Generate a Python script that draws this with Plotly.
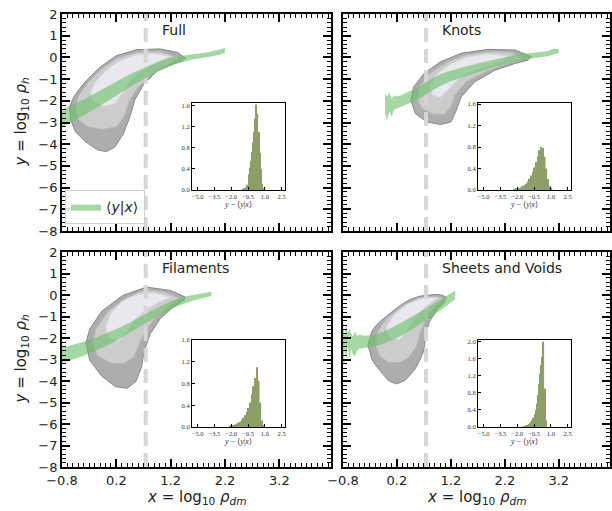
import plotly.graph_objects as go

W, H = 612, 511

# ---------------- data ----------------
panel_names = ["Full", "Knots", "Filaments", "Sheets and Voids"]
dm_threshold = 0.74

x_tick_vals = [-0.8, 0.2, 1.2, 2.2, 3.2]
x_tick_text = ["\u22120.8", "0.2", "1.2", "2.2", "3.2"]
y_tick_vals = [-8, -7, -6, -5, -4, -3, -2, -1, 0, 1, 2]
y_tick_text = ["\u22128", "\u22127", "\u22126", "\u22125", "\u22124", "\u22123",
               "\u22122", "\u22121", "0", "1", "2"]

# contour polygons (outer / middle / inner), data coords
full_outer_x = [1.48, 1.33, 1.01, 0.58, 0.2, -0.11, -0.39, -0.58, -0.66, -0.64, -0.55, -0.36, -0.14, 0.01, 0.17, 0.33, 0.45, 0.54, 0.7, 0.95, 1.23, 1.42]
full_outer_y = [-0.05, 0.23, 0.39, 0.36, 0.08, -0.47, -1.17, -1.8, -2.27, -2.89, -3.44, -3.9, -4.27, -4.34, -4.14, -3.52, -2.73, -1.95, -1.25, -0.62, -0.31, -0.16]
full_mid_x = [1.36, 1.0, 0.6, 0.22, -0.07, -0.33, -0.5, -0.55, -0.5, -0.32, -0.05, 0.2, 0.34, 0.44, 0.6, 0.85, 1.12]
full_mid_y = [-0.02, 0.27, 0.25, -0.03, -0.52, -1.17, -1.8, -2.3, -2.85, -3.2, -3.32, -3.2, -2.75, -2.0, -1.35, -0.78, -0.38]
full_in_x = [1.2, 0.9, 0.55, 0.25, 0.02, -0.18, -0.28, -0.22, -0.02, 0.18, 0.3, 0.42, 0.58, 0.82, 1.02]
full_in_y = [0.05, 0.18, 0.12, -0.17, -0.58, -1.12, -1.62, -2.02, -2.25, -2.12, -1.7, -1.2, -0.78, -0.38, -0.12]

knots_outer_x = [2.7, 2.39, 1.89, 1.39, 1.01, 0.7, 0.51, 0.46, 0.54, 0.76, 1.01, 1.2, 1.3, 1.39, 1.64, 2.02, 2.39, 2.64]
knots_outer_y = [0.03, 0.34, 0.37, 0.19, -0.2, -0.74, -1.36, -1.98, -2.59, -2.98, -3.09, -2.98, -2.44, -1.82, -1.13, -0.59, -0.28, -0.12]
knots_mid_x = [2.55, 2.3, 1.9, 1.45, 1.1, 0.8, 0.62, 0.58, 0.66, 0.88, 1.08, 1.2, 1.28, 1.48, 1.85, 2.2, 2.45]
knots_mid_y = [0.0, 0.24, 0.27, 0.1, -0.26, -0.75, -1.35, -1.9, -2.35, -2.62, -2.62, -2.3, -1.72, -1.12, -0.65, -0.32, -0.13]
knots_in_x = [2.3, 1.9, 1.5, 1.2, 0.95, 0.82, 0.85, 1.0, 1.14, 1.34, 1.65, 2.0]
knots_in_y = [0.06, 0.16, 0.02, -0.3, -0.75, -1.3, -1.72, -1.85, -1.5, -1.0, -0.6, -0.3]

fil_outer_x = [1.48, 1.2, 0.75, 0.31, -0.07, -0.29, -0.36, -0.29, -0.07, 0.18, 0.4, 0.56, 0.66, 0.72, 0.82, 1.01, 1.26, 1.45]
fil_outer_y = [-0.11, 0.21, 0.37, -0.03, -0.76, -1.58, -2.23, -3.04, -3.77, -4.26, -4.34, -4.02, -3.37, -2.55, -1.82, -1.09, -0.52, -0.24]
fil_mid_x = [1.36, 1.1, 0.75, 0.4, 0.05, -0.17, -0.24, -0.15, 0.1, 0.35, 0.52, 0.62, 0.72, 0.92, 1.18]
fil_mid_y = [-0.15, 0.13, 0.25, -0.1, -0.75, -1.55, -2.2, -2.82, -3.18, -3.18, -2.88, -2.3, -1.7, -1.05, -0.52]
fil_in_x = [1.2, 0.9, 0.6, 0.3, 0.1, 0.0, 0.05, 0.25, 0.4, 0.55, 0.8, 1.0]
fil_in_y = [-0.1, 0.1, 0.05, -0.3, -0.85, -1.5, -2.0, -2.12, -1.7, -1.1, -0.6, -0.3]

sv_outer_x = [1.13, 1.05, 0.94, 0.8, 0.63, 0.45, 0.3, 0.15, 0.0, -0.1, -0.2, -0.27, -0.3, -0.34, -0.3, -0.27, -0.2, -0.12, -0.03, 0.04, 0.19, 0.35, 0.45, 0.54, 0.62, 0.69, 0.72, 0.75, 0.8, 0.88, 0.95, 1.04, 1.1]
sv_outer_y = [-0.13, -0.02, 0.03, 0.0, -0.05, -0.2, -0.42, -0.7, -0.98, -1.2, -1.45, -1.72, -2.0, -2.33, -2.65, -2.96, -3.25, -3.5, -3.75, -3.98, -4.14, -3.98, -3.7, -3.43, -3.05, -2.65, -2.2, -1.7, -1.25, -0.91, -0.65, -0.44, -0.28]
sv_mid_x = [1.05, 0.9, 0.6, 0.3, 0.02, -0.16, -0.2, -0.12, 0.05, 0.25, 0.42, 0.56, 0.64, 0.77, 0.94]
sv_mid_y = [-0.15, -0.06, -0.13, -0.5, -1.07, -1.7, -2.3, -2.85, -3.15, -3.15, -2.9, -2.4, -1.7, -0.95, -0.45]
sv_in_x = [0.95, 0.7, 0.4, 0.15, 0.0, 0.05, 0.25, 0.4, 0.55, 0.75]
sv_in_y = [-0.13, -0.13, -0.42, -0.92, -1.5, -2.0, -2.07, -1.6, -1.0, -0.5]

# <y|x> bands
full_band_x = [-0.8, -0.6, -0.4, -0.2, 0.0, 0.2, 0.4, 0.6, 0.8, 1.0, 1.2, 1.4, 1.6, 1.8, 1.9, 2.0, 2.1, 2.2]
full_band_hi = [-2.4, -2.18, -1.95, -1.66, -1.38, -1.12, -0.85, -0.6, -0.38, -0.18, -0.02, 0.08, 0.15, 0.2, 0.25, 0.28, 0.36, 0.45]
full_band_lo = [-3.2, -2.95, -2.68, -2.38, -2.08, -1.78, -1.45, -1.15, -0.88, -0.62, -0.4, -0.22, -0.1, -0.02, 0.02, 0.06, 0.12, 0.22]

knots_band_x = [-0.02, 0.02, 0.06, 0.1, 0.15, 0.2, 0.3, 0.45, 0.6, 0.8, 1.0, 1.2, 1.4, 1.6, 1.8, 2.0, 2.2, 2.4, 2.6, 2.8, 3.0, 3.1, 3.2]
knots_band_hi = [-1.7, -1.8, -1.6, -1.9, -1.75, -1.8, -1.72, -1.55, -1.35, -1.05, -0.78, -0.6, -0.46, -0.34, -0.22, -0.1, 0.02, 0.12, 0.18, 0.24, 0.3, 0.4, 0.38]
knots_band_lo = [-2.6, -2.9, -2.5, -2.75, -2.4, -2.35, -2.25, -2.1, -1.92, -1.62, -1.32, -1.1, -0.92, -0.76, -0.6, -0.44, -0.3, -0.17, -0.08, -0.02, 0.05, 0.12, 0.2]

fil_band_x = [-0.8, -0.6, -0.4, -0.2, 0.0, 0.2, 0.4, 0.6, 0.8, 1.0, 1.2, 1.4, 1.6, 1.8, 1.95]
fil_band_hi = [-2.45, -2.32, -2.18, -2.0, -1.8, -1.58, -1.35, -1.07, -0.8, -0.53, -0.3, -0.12, 0.0, 0.08, 0.15]
fil_band_lo = [-3.15, -3.0, -2.82, -2.6, -2.38, -2.12, -1.85, -1.53, -1.22, -0.92, -0.66, -0.45, -0.27, -0.15, -0.05]

sv_band_x = [-0.8, -0.77, -0.74, -0.71, -0.68, -0.65, -0.62, -0.58, -0.54, -0.5, -0.4, -0.2, 0.0, 0.2, 0.4, 0.6, 0.8, 1.0, 1.15, 1.28]
sv_band_hi = [-1.4, -1.9, -1.35, -1.8, -1.55, -1.75, -1.95, -1.7, -1.9, -1.85, -1.9, -1.85, -1.65, -1.4, -1.12, -0.82, -0.52, -0.22, 0.0, 0.2]
sv_band_lo = [-3.3, -2.6, -2.95, -2.4, -3.0, -2.5, -2.75, -2.85, -2.6, -2.5, -2.45, -2.4, -2.22, -2.0, -1.72, -1.42, -1.08, -0.72, -0.45, -0.2]

# residual histograms  y - <y|x>
full_hist_x = [-0.95, -0.85, -0.75, -0.65, -0.55, -0.45, -0.35, -0.25, -0.15, -0.05, 0.05, 0.15, 0.25, 0.35, 0.45, 0.55, 0.65, 0.75, 0.85]
full_hist_h = [0.01, 0.02, 0.03, 0.05, 0.1, 0.3, 0.42, 0.55, 0.72, 0.9, 1.1, 1.35, 1.62, 1.45, 1.1, 0.7, 0.4, 0.12, 0.03]
knots_hist_x = [-2.25, -2.1, -1.95, -1.8, -1.65, -1.5, -1.35, -1.2, -1.05, -0.9, -0.75, -0.6, -0.45, -0.3, -0.15, 0.0, 0.15, 0.3, 0.45, 0.6, 0.75, 0.9, 1.05]
knots_hist_h = [0.01, 0.02, 0.03, 0.04, 0.05, 0.07, 0.09, 0.12, 0.16, 0.21, 0.27, 0.34, 0.42, 0.52, 0.62, 0.74, 0.8, 0.78, 0.62, 0.4, 0.2, 0.07, 0.02]
fil_hist_x = [-2.1, -1.95, -1.8, -1.65, -1.5, -1.35, -1.2, -1.05, -0.9, -0.75, -0.6, -0.45, -0.3, -0.15, 0.0, 0.15, 0.3, 0.45, 0.6, 0.75, 0.9]
fil_hist_h = [0.01, 0.02, 0.03, 0.04, 0.06, 0.08, 0.1, 0.13, 0.17, 0.22, 0.28, 0.35, 0.45, 0.6, 0.75, 0.9, 1.1, 0.85, 0.45, 0.12, 0.03]
sv_hist_x = [-1.45, -1.35, -1.25, -1.15, -1.05, -0.95, -0.85, -0.75, -0.65, -0.55, -0.45, -0.35, -0.25, -0.15, -0.05, 0.05, 0.15, 0.25, 0.35, 0.45, 0.55]
sv_hist_h = [0.01, 0.02, 0.03, 0.04, 0.05, 0.07, 0.09, 0.12, 0.16, 0.22, 0.3, 0.4, 0.55, 0.75, 1.0, 1.25, 1.45, 1.65, 2.0, 0.9, 0.15]

hist_bin_width = [0.1, 0.15, 0.15, 0.1]
inset_x_ticks = [-5.0, -3.5, -2.0, -0.5, 1.0, 2.5]
inset_x_text = ["\u22125.0", "\u22123.5", "\u22122.0", "\u22120.5", "1.0", "2.5"]
inset_y_max = [1.65, 1.62, 1.6, 2.04]
inset_y_ticks = [[0.0, 0.4, 0.8, 1.2, 1.6], [0.0, 0.4, 0.8, 1.2, 1.6],
                 [0.0, 0.4, 0.8, 1.2, 1.6], [0.0, 0.4, 0.8, 1.2, 1.6, 2.0]]

contours = [
    ((full_outer_x, full_outer_y), (full_mid_x, full_mid_y), (full_in_x, full_in_y)),
    ((knots_outer_x, knots_outer_y), (knots_mid_x, knots_mid_y), (knots_in_x, knots_in_y)),
    ((fil_outer_x, fil_outer_y), (fil_mid_x, fil_mid_y), (fil_in_x, fil_in_y)),
    ((sv_outer_x, sv_outer_y), (sv_mid_x, sv_mid_y), (sv_in_x, sv_in_y)),
]
bands = [
    (full_band_x, full_band_hi, full_band_lo),
    (knots_band_x, knots_band_hi, knots_band_lo),
    (fil_band_x, fil_band_hi, fil_band_lo),
    (sv_band_x, sv_band_hi, sv_band_lo),
]
hists = [(full_hist_x, full_hist_h), (knots_hist_x, knots_hist_h),
         (fil_hist_x, fil_hist_h), (sv_hist_x, sv_hist_h)]

# ---------------- layout geometry (pixels) ----------------
def px_x(p):
    return p / W

def px_y(p):
    return 1 - p / H

main_boxes = [  # (left, right, top, bottom) in px
    (62, 331, 14, 231), (343, 610, 14, 231),
    (62, 331, 252, 467), (343, 610, 252, 467),
]
inset_boxes = [
    (192, 285, 103, 190), (478, 571, 103, 190),
    (192, 285, 340, 427), (478, 571, 340, 427),
]

contour_fill = ["#adadad", "#cccccc", "#e8e8ee"]
contour_line = ["#888888", "#b8b8b8", "#d8d8e0"]
band_color = "rgba(105,190,105,0.6)"
hist_color = "rgb(141,158,104)"

fig = go.Figure()
layout = dict(
    width=W, height=H, margin=dict(l=0, r=0, t=0, b=0, autoexpand=False),
    paper_bgcolor="white", plot_bgcolor="white",
    font=dict(family="DejaVu Sans", color="#222"),
    showlegend=True,
)

for i in range(4):
    n = i + 1
    xa = "x" if n == 1 else f"x{n}"
    ya = "y" if n == 1 else f"y{n}"
    ni = n + 4
    xi, yi = f"x{ni}", f"y{ni}"

    for k, (cx, cy) in enumerate(contours[i]):
        fig.add_trace(go.Scatter(
            x=list(cx), y=list(cy), fill="toself", mode="lines",
            fillcolor=contour_fill[k], line=dict(color=contour_line[k], width=1),
            xaxis=xa, yaxis=ya, showlegend=False, hoverinfo="skip"))
    fig.add_trace(go.Scatter(
        x=[dm_threshold, dm_threshold], y=[-8, 2], mode="lines",
        line=dict(color="#d6d6d6", width=4, dash="14px,7px"),
        xaxis=xa, yaxis=ya, showlegend=False, hoverinfo="skip"))
    bx, bhi, blo = bands[i]
    fig.add_trace(go.Scatter(
        x=list(bx) + list(bx)[::-1], y=list(bhi) + list(blo)[::-1],
        fill="toself", mode="lines", fillcolor=band_color,
        line=dict(color="rgba(0,0,0,0)", width=0),
        name="\u27e8<i>y</i>|<i>x</i>\u27e9", showlegend=(i == 0),
        xaxis=xa, yaxis=ya, hoverinfo="skip"))
    hx, hh = hists[i]
    fig.add_trace(go.Bar(
        x=hx, y=hh, width=hist_bin_width[i], marker=dict(color=hist_color, line=dict(width=0)),
        xaxis=xi, yaxis=yi, showlegend=False, hoverinfo="skip"))

    l, r, t, b = main_boxes[i]
    bottom_row = i >= 2
    left_col = i % 2 == 0
    layout[f"xaxis{'' if n == 1 else n}"] = dict(
        domain=[px_x(l), px_x(r)], anchor=ya, range=[-0.8, 4.15], automargin=False,
        tickmode="array", tickvals=x_tick_vals, ticktext=x_tick_text,
        showticklabels=bottom_row, ticks="inside", ticklen=8, tickwidth=1.5,
        tickcolor="black", showline=True, linecolor="black", linewidth=1.8,
        mirror="allticks", showgrid=False, zeroline=False,
        tickfont=dict(size=13, color="#222"),
        minor=dict(ticks="inside", dtick=0.1, tick0=-0.8, ticklen=4,
                   tickwidth=1, tickcolor="black", showgrid=False),
    )
    layout[f"yaxis{'' if n == 1 else n}"] = dict(
        domain=[px_y(b), px_y(t)], anchor=xa, range=[-8, 2], automargin=False,
        tickmode="array", tickvals=y_tick_vals, ticktext=y_tick_text,
        showticklabels=left_col, ticks="inside", ticklen=8, tickwidth=1.5,
        tickcolor="black", showline=True, linecolor="black", linewidth=1.8,
        mirror="allticks", showgrid=False, zeroline=False,
        tickfont=dict(size=13, color="#222"),
        minor=dict(ticks="inside", dtick=0.2, tick0=-8, ticklen=4,
                   tickwidth=1, tickcolor="black", showgrid=False),
    )

    il, ir, it, ib = inset_boxes[i]
    layout[f"xaxis{ni}"] = dict(
        domain=[px_x(il), px_x(ir)], anchor=yi, range=[-5.5, 2.8], automargin=False,
        tickmode="array", tickvals=inset_x_ticks, ticktext=inset_x_text, tickangle=0,
        ticks="inside", ticklen=3, tickwidth=1, tickcolor="black",
        showline=True, linecolor="black", linewidth=1, mirror=True,
        showgrid=False, zeroline=False,
        tickfont=dict(size=6.5, family="Liberation Serif", color="#333"),
        title=dict(text="<i>y</i> \u2212 \u27e8<i>y</i>|<i>x</i>\u27e9",
                   font=dict(size=8, family="Liberation Serif", color="#333"), standoff=2),
    )
    layout[f"yaxis{ni}"] = dict(
        domain=[px_y(ib), px_y(it)], anchor=xi, range=[0, inset_y_max[i]], automargin=False,
        tickmode="array", tickvals=inset_y_ticks[i],
        ticktext=[f"{v:.1f}" for v in inset_y_ticks[i]],
        ticks="inside", ticklen=3, tickwidth=1, tickcolor="black",
        showline=True, linecolor="black", linewidth=1, mirror=True,
        showgrid=False, zeroline=False,
        tickfont=dict(size=6.5, family="Liberation Serif", color="#333"),
    )

annotations = []
for i, name in enumerate(panel_names):
    n = i + 1
    annotations.append(dict(
        text=name, x=1.0, y=1.25, xref="x" if n == 1 else f"x{n}",
        yref="y" if n == 1 else f"y{n}", xanchor="left", yanchor="middle",
        showarrow=False, font=dict(size=14, color="#222")))

ytitle = "<i>y</i> = log<sub>10</sub> <i>\u03c1<sub>h</sub></i>"
xtitle = "<i>x</i> = log<sub>10</sub> <i>\u03c1<sub>dm</sub></i>"
for yc in [(14 + 231) / 2, (252 + 467) / 2]:
    annotations.append(dict(text=ytitle, x=px_x(21), y=px_y(yc), xref="paper", yref="paper",
                            textangle=-90, showarrow=False, xanchor="center", yanchor="middle",
                            font=dict(size=15, color="#222")))
for xc in [(62 + 331) / 2, (343 + 610) / 2]:
    annotations.append(dict(text=xtitle, x=px_x(xc), y=px_y(497), xref="paper", yref="paper",
                            showarrow=False, xanchor="center", yanchor="middle",
                            font=dict(size=15, color="#222")))
layout["annotations"] = annotations
layout["legend"] = dict(x=px_x(65), y=px_y(190), xanchor="left", yanchor="top",
                        bgcolor="rgba(255,255,255,0.85)", bordercolor="#d0d0d0", borderwidth=1,
                        font=dict(size=14, color="#222"), itemwidth=30,
                        tracegroupgap=0)

fig.update_layout(**layout)
fig.write_html("out.html", config={"displayModeBar": False},
               post_script="document.body.style.margin='0px';document.body.style.overflow='hidden';")
